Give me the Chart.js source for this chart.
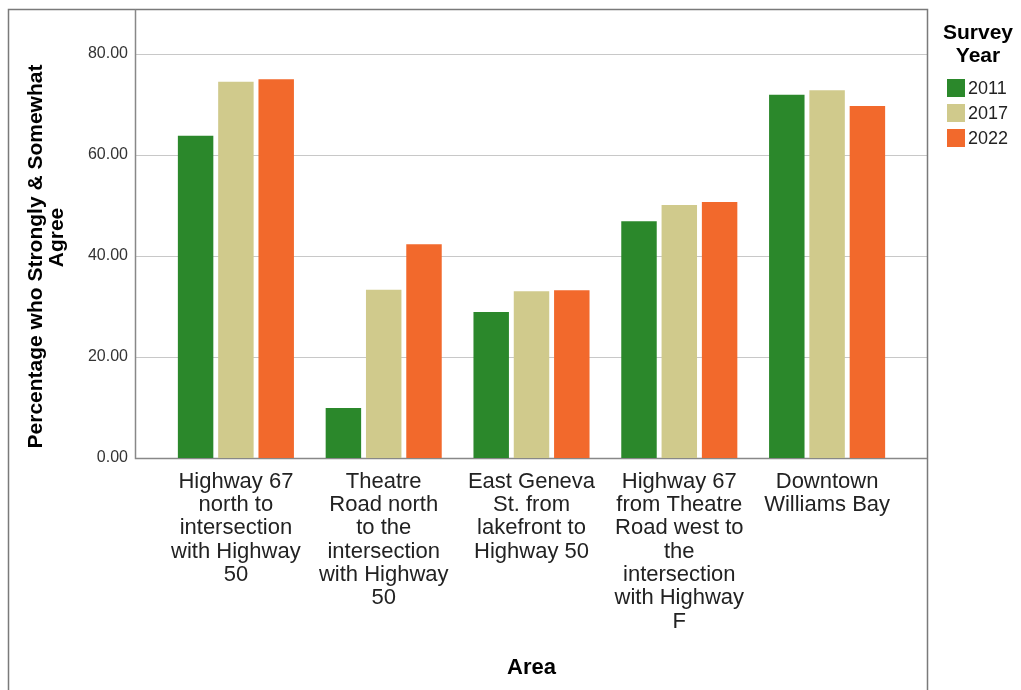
<!DOCTYPE html>
<html><head><meta charset="utf-8">
<script src="https://cdn.jsdelivr.net/npm/chart.js@4.4.0/dist/chart.umd.min.js"></script>
<style>html,body{margin:0;padding:0;background:#fff;}canvas{display:block;}</style>
</head><body>
<canvas id="c" width="1021" height="690"></canvas>
<script>
const categories = [
  ["Highway 67","north to","intersection","with Highway","50"],
  ["Theatre","Road north","to the","intersection","with Highway","50"],
  ["East Geneva","St. from","lakefront to","Highway 50"],
  ["Highway 67","from Theatre","Road west to","the","intersection","with Highway","F"],
  ["Downtown","Williams Bay"]
];
const seriesNames = ["2011","2017","2022"];
const values2011 = [63.8, 9.9, 28.9, 46.9, 71.9];
const values2017 = [74.5, 33.3, 33.0, 50.1, 72.8];
const values2022 = [75.0, 42.3, 33.2, 50.7, 69.7];
const seriesColors = ["#2b882b", "#d0ca8c", "#f2692c"];
const yTicks = [0, 20, 40, 60, 80];
const yMax = 88.9;
const yTitleLines = ["Percentage who Strongly & Somewhat", "Agree"];
const xTitle = "Area";
const legendTitle = ["Survey", "Year"];

const FONT = "'Liberation Sans', Arial, sans-serif";
const SIDE_PAD = 27;

const framePlugin = {
  id: 'frame',
  beforeDraw(chart) {
    const ctx = chart.ctx;
    ctx.save();
    ctx.fillStyle = '#fff';
    ctx.fillRect(0, 0, chart.width, chart.height);
    ctx.restore();
  },
  beforeDatasetsDraw(chart) {
    const ctx = chart.ctx;
    const a = chart.chartArea;
    const y = chart.scales.y;
    const L = a.left - SIDE_PAD, R = a.right + SIDE_PAD - 1;
    ctx.save();
    ctx.strokeStyle = '#c8c8c8';
    ctx.lineWidth = 1.2;
    yTicks.forEach(v => {
      if (v === 0) return;
      const py = Math.round(y.getPixelForValue(v)) + 0.5;
      ctx.beginPath(); ctx.moveTo(L, py); ctx.lineTo(R, py); ctx.stroke();
    });
    // outer frame
    ctx.strokeStyle = '#7a7a7a';
    ctx.lineWidth = 1.5;
    ctx.beginPath();
    ctx.moveTo(8.5, chart.height);
    ctx.lineTo(8.5, 9.5);
    ctx.lineTo(R + 0.5, 9.5);
    ctx.lineTo(R + 0.5, chart.height);
    ctx.stroke();
    // axes
    ctx.strokeStyle = '#888';
    ctx.lineWidth = 1.5;
    const y0 = Math.round(y.getPixelForValue(0)) + 0.5;
    ctx.beginPath();
    ctx.moveTo(L + 0.5, 9.5);
    ctx.lineTo(L + 0.5, y0);
    ctx.lineTo(R, y0);
    ctx.stroke();
    ctx.restore();
  },
  afterDraw(chart) {
    const ctx = chart.ctx;
    ctx.save();
    // y axis title
    ctx.fillStyle = '#000';
    ctx.font = "bold 21px " + FONT;
    ctx.textAlign = 'center';
    ctx.textBaseline = 'alphabetic';
    const centers = [256.5, 237.5];
    const baselines = [41.7, 63.3];
    yTitleLines.forEach((t, i) => {
      ctx.save();
      ctx.translate(0, centers[i]);
      ctx.rotate(-Math.PI / 2);
      ctx.fillText(t, 0, baselines[i]);
      ctx.restore();
    });
    // legend
    const lx = chart.chartArea.right + SIDE_PAD + 50;
    ctx.font = "bold 21px " + FONT;
    ctx.textBaseline = 'middle';
    ctx.fillText(legendTitle[0], lx, 33);
    ctx.fillText(legendTitle[1], lx, 56);
    ctx.font = "18px " + FONT;
    ctx.textAlign = 'left';
    chart.data.datasets.forEach((ds, i) => {
      const top = 79 + i * 25;
      ctx.fillStyle = ds.backgroundColor;
      ctx.fillRect(lx - 31, top, 18, 18);
      ctx.fillStyle = '#222';
      ctx.fillText(ds.label, lx - 10, top + 10);
    });
    ctx.restore();
  }
};

new Chart(document.getElementById('c'), {
  type: 'bar',
  data: {
    labels: categories,
    datasets: [
      { label: seriesNames[0], data: values2011, backgroundColor: seriesColors[0] },
      { label: seriesNames[1], data: values2017, backgroundColor: seriesColors[1] },
      { label: seriesNames[2], data: values2022, backgroundColor: seriesColors[2] }
    ]
  },
  options: {
    responsive: false,
    animation: false,
    devicePixelRatio: 1,
    layout: { padding: { left: 88, right: 120, top: 9, bottom: 0 } },
    datasets: { bar: { categoryPercentage: 0.818, barPercentage: 0.88, borderWidth: 0 } },
    plugins: { legend: { display: false }, tooltip: { enabled: false }, title: { display: false } },
    scales: {
      x: {
        grid: { display: false, drawTicks: false },
        border: { display: false },
        afterFit(s) { s.height = 232; s.paddingLeft = 0; s.paddingRight = 0; s.paddingTop = 0; s.paddingBottom = 0; },
        ticks: {
          color: '#222', padding: 12, maxRotation: 0, autoSkip: false,
          font: { family: FONT, size: 22, lineHeight: 1.06 }
        },
        title: {
          display: true, text: xTitle, color: '#000',
          font: { family: FONT, size: 22, weight: 'bold', lineHeight: 1.2 },
          padding: { top: 21.6, bottom: 9 }
        }
      },
      y: {
        min: 0, max: yMax,
        grid: { display: false, drawTicks: false },
        border: { display: false },
        afterFit(s) { s.width = 74; s.paddingTop = 0; s.paddingBottom = 0; s.paddingLeft = 0; s.paddingRight = 0; },
        afterBuildTicks(scale) { scale.ticks = yTicks.map(v => ({ value: v })); },
        ticks: {
          color: '#333', padding: 34,
          font: { family: FONT, size: 16, lineHeight: 1 },
          callback: v => Number(v).toFixed(2)
        }
      }
    }
  },
  plugins: [framePlugin]
});
</script>
</body></html>
